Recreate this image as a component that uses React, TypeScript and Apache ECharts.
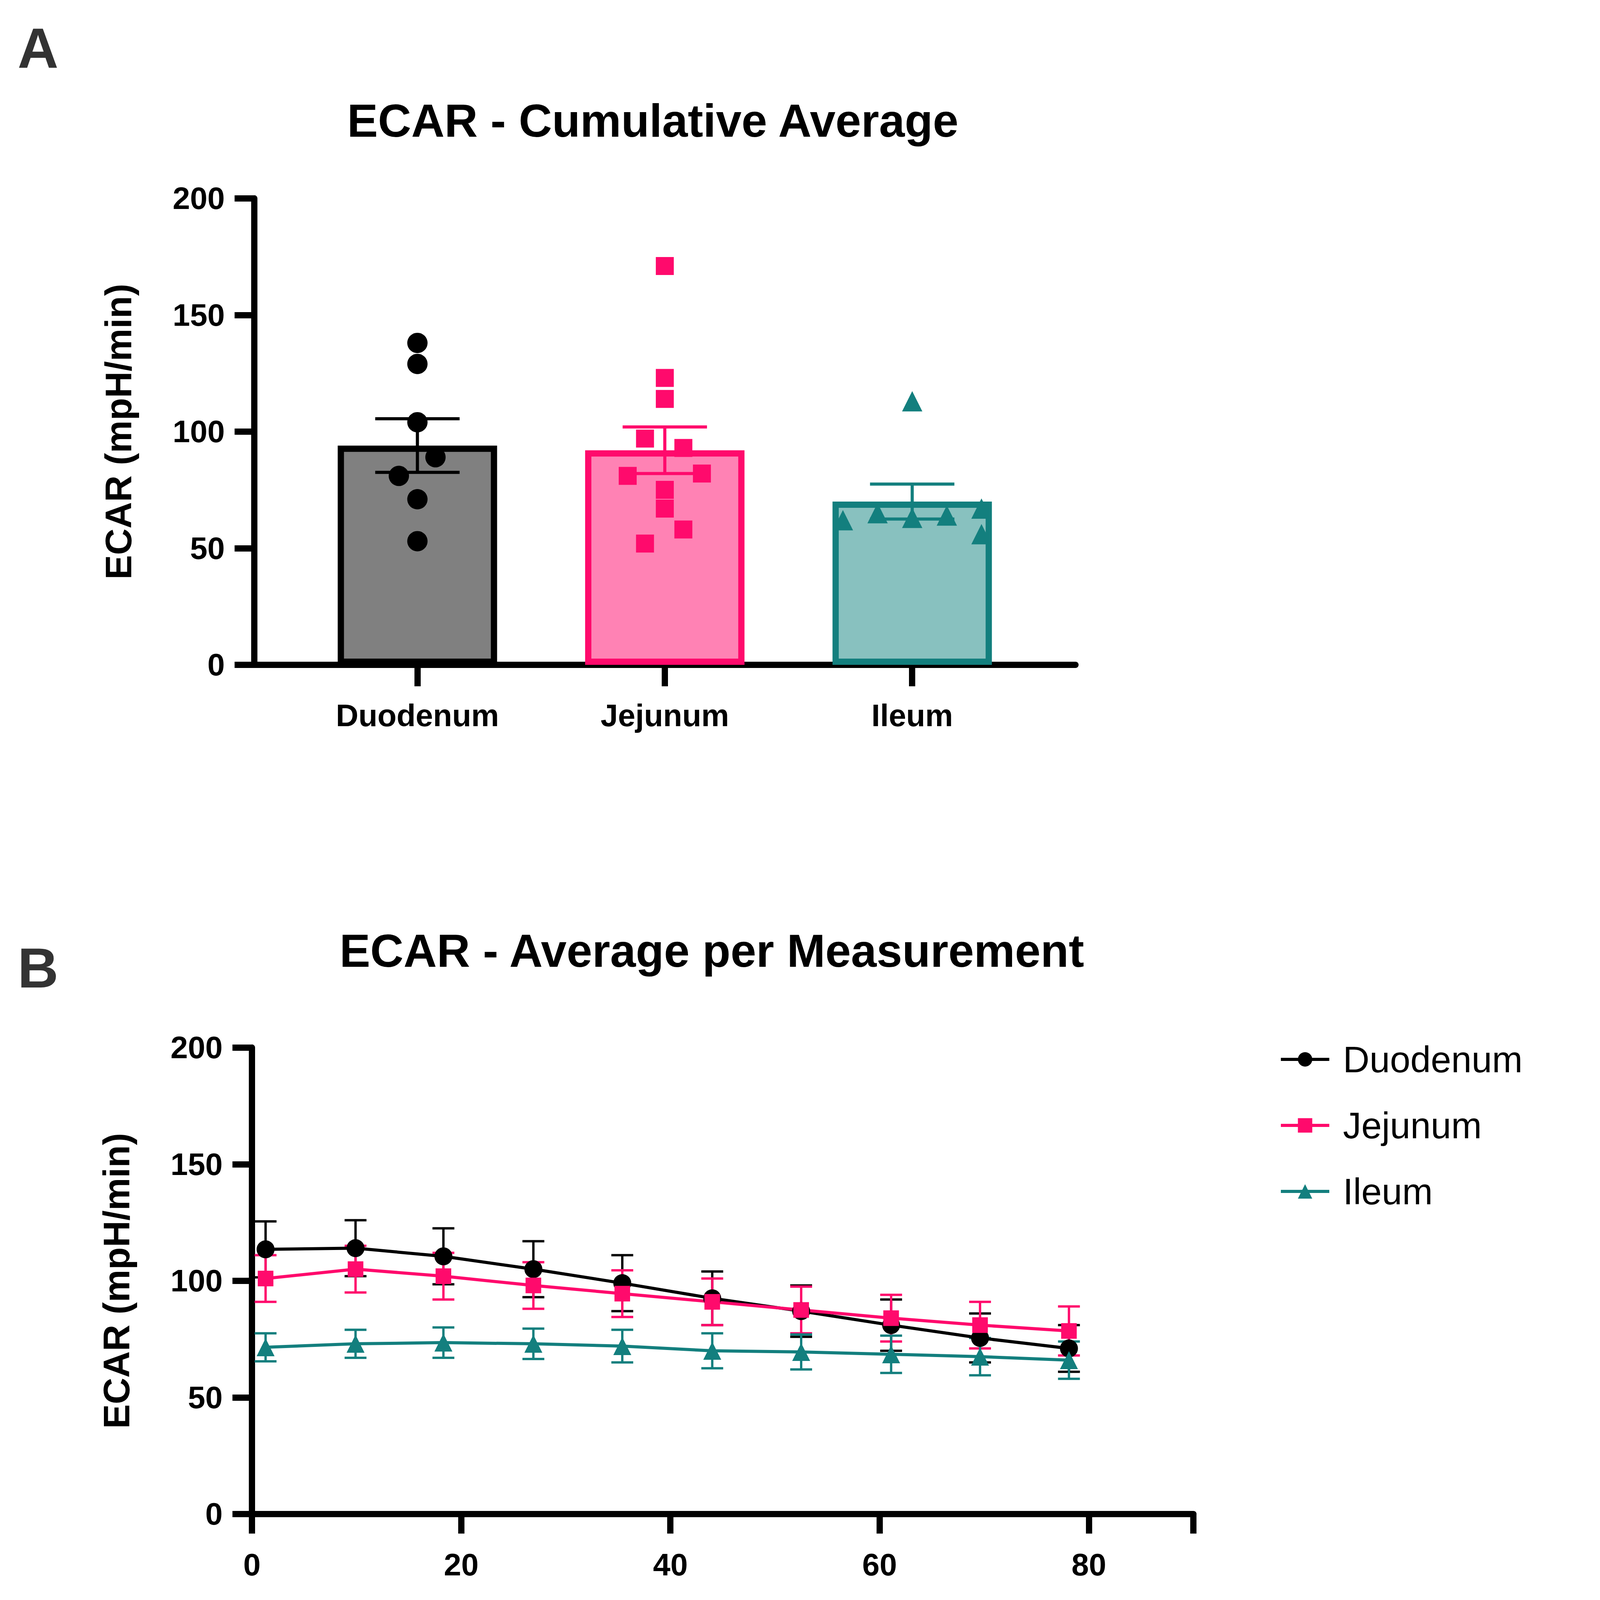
import React, { useEffect, useRef } from 'react';
import * as echarts from 'echarts';

const S = 2.745; // reference display px -> page px
const FONT = 'Liberation Sans';

// Panel A
const regions = ['Duodenum', 'Jejunum', 'Ileum'];
const regionX = [0.66, 1.66, 2.66];
const barMeans = [94, 92, 70];
const barSem = [11.5, 10, 7.5];
const barFill = ['#808080', '#ff82b4', '#88c1bf'];
const lineColors = ['#000000', '#ff0a6c', '#137f7e'];
const symbols = ['circle', 'rect', 'triangle'];
// [offset from bar centre, value]
const duodenumPts = [[0, 138], [0, 129], [0, 104], [0.073, 89], [-0.075, 81], [0, 71], [0, 53]];
const jejunumPts = [[0, 171], [0, 123], [0, 114], [-0.08, 97], [0.075, 93], [0.15, 82], [-0.15, 81], [0, 75], [0, 67], [0.075, 58], [-0.08, 52]];
const ileumPts = [[0, 113], [0.28, 67], [-0.14, 65], [0.14, 64], [0, 63], [-0.28, 62], [0.28, 56]];
const allPts = [duodenumPts, jejunumPts, ileumPts];

// Panel B
const times = [1.3, 9.9, 18.3, 26.9, 35.4, 44, 52.5, 61.1, 69.6, 78.1];
const duodenumMean = [113.5, 114, 110.5, 105, 99, 92.5, 87, 81, 75.5, 71];
const duodenumSem = [12, 12, 12, 12, 12, 11.5, 11, 11, 10.5, 10];
const jejunumMean = [101, 105, 102, 98, 94.5, 91, 87.5, 84, 81, 78.5];
const jejunumSem = [10, 10, 10, 10, 10, 10, 10, 10, 10, 10.5];
const ileumMean = [71.5, 73, 73.5, 73, 72, 70, 69.5, 68.5, 67.5, 66];
const ileumSem = [6, 6, 6.5, 6.5, 7, 7.5, 7.5, 8, 8, 8];
const seriesB = [
  { name: 'Duodenum', mean: duodenumMean, sem: duodenumSem },
  { name: 'Jejunum', mean: jejunumMean, sem: jejunumSem },
  { name: 'Ileum', mean: ileumMean, sem: ileumSem },
];

const errorBar = (capHalf: number, colors: string[], width: number, gi: number) => ({
  type: 'custom',
  xAxisIndex: gi,
  yAxisIndex: gi,
  silent: true,
  z: 5,
  renderItem: (params: any, api: any) => {
    const x = api.value(0);
    const lo = api.coord([x, api.value(1)]);
    const hi = api.coord([x, api.value(2)]);
    const color = colors[params.dataIndex % colors.length];
    const style = { stroke: color, lineWidth: width };
    return {
      type: 'group',
      children: [
        { type: 'line', shape: { x1: lo[0], y1: lo[1], x2: hi[0], y2: hi[1] }, style },
        { type: 'line', shape: { x1: hi[0] - capHalf, y1: hi[1], x2: hi[0] + capHalf, y2: hi[1] }, style },
        { type: 'line', shape: { x1: lo[0] - capHalf, y1: lo[1], x2: lo[0] + capHalf, y2: lo[1] }, style },
      ],
    };
  },
});

const axisLab = { color: '#000', fontFamily: FONT, fontWeight: 'bold' as const, fontSize: 80 };
const axisLine = { lineStyle: { color: '#000', width: 16 } };
const nameStyle = { fontSize: 94, fontFamily: FONT, fontWeight: 'bold' as const, color: '#000' };

const App: React.FC = () => {
  const divEL = useRef(null);

  useEffect(() => {
    document.body.style.margin = '0';
    const instance = echarts.init(divEL.current as any, null, { renderer: 'svg' });

    const option: any = {
      animation: false,
      backgroundColor: '#fff',
      title: [
        { text: 'A', left: 40, top: 45, textStyle: { fontSize: 145, fontFamily: FONT, fontWeight: 'bold', color: '#333' } },
        { text: 'B', left: 40, top: 2400, textStyle: { fontSize: 145, fontFamily: FONT, fontWeight: 'bold', color: '#333' } },
        { text: 'ECAR - Cumulative Average', left: 607 * S, textAlign: 'center', top: 245, textStyle: { fontSize: 118, fontFamily: FONT, fontWeight: 'bold', color: '#000' } },
        { text: 'ECAR - Average per Measurement', left: 662 * S, textAlign: 'center', top: 2370, textStyle: { fontSize: 118, fontFamily: FONT, fontWeight: 'bold', color: '#000' } },
      ],
      legend: {
        data: seriesB.map((s) => s.name),
        orient: 'vertical',
        left: 3270,
        top: 2660,
        itemWidth: 124,
        itemHeight: 46,
        itemGap: 75,
        lineStyle: { width: 8 },
        textStyle: { fontSize: 94, fontFamily: FONT, color: '#000', padding: [0, 0, 0, 30] },
      },
      grid: [
        { left: 237 * S, top: 185 * S, width: 766 * S, height: 435 * S },
        { left: 235 * S, top: 977 * S, width: 878 * S, height: 435 * S },
      ],
      xAxis: [
        {
          type: 'value', gridIndex: 0, min: 0, max: 3.32, splitLine: { show: false },
          axisLine,
          axisTick: { length: 55, lineStyle: { width: 16, color: '#000' }, customValues: regionX },
          axisLabel: { ...axisLab, margin: 90, customValues: regionX, formatter: (v: number) => regions[regionX.findIndex((r) => Math.abs(r - v) < 0.01)] ?? '' },
        },
        {
          type: 'value', gridIndex: 1, min: 0, max: 90, interval: 20, splitLine: { show: false },
          axisLine,
          axisTick: { length: 50, lineStyle: { width: 16, color: '#000' } },
          axisLabel: { ...axisLab, margin: 90, formatter: (v: number) => (v > 80 ? '' : String(v)) },
          name: 'Time (minutes)', nameLocation: 'middle', nameGap: 235,
          nameTextStyle: nameStyle,
        },
      ],
      yAxis: [0, 1].map((g) => ({
        type: 'value', gridIndex: g, min: 0, max: 200, interval: 50, splitLine: { show: false },
        axisLine,
        axisTick: { length: 50, lineStyle: { width: 16, color: '#000' } },
        axisLabel: { ...axisLab, margin: 75 },
        name: 'ECAR (mpH/min)', nameLocation: 'middle', nameGap: 300,
        nameTextStyle: nameStyle,
      })),
      series: [
        {
          type: 'bar', xAxisIndex: 0, yAxisIndex: 0, barWidth: 408, z: 2,
          data: regionX.map((x, i) => ({
            value: [x, barMeans[i]],
            itemStyle: { color: barFill[i], borderColor: lineColors[i], borderWidth: 16 },
          })),
        },
        {
          ...errorBar(108, lineColors, 8, 0),
          data: regionX.map((x, i) => [x, barMeans[i] - barSem[i], barMeans[i] + barSem[i]]),
        },
        ...allPts.map((pts, i) => ({
          type: 'scatter', xAxisIndex: 0, yAxisIndex: 0, z: 6,
          symbol: symbols[i], symbolSize: i === 1 ? 46 : 52,
          itemStyle: { color: lineColors[i], opacity: 1 },
          data: pts.map(([o, v]) => [regionX[i] + o, v]),
        })),
        ...seriesB.map((s, i) => ({
          ...errorBar(28, [lineColors[i]], 6, 1),
          data: times.map((t, k) => [t, s.mean[k] - s.sem[k], s.mean[k] + s.sem[k]]),
        })),
        ...seriesB.map((s, i) => ({
          name: s.name, type: 'line', xAxisIndex: 1, yAxisIndex: 1, z: 7,
          symbol: symbols[i], symbolSize: i === 1 ? 40 : 46,
          lineStyle: { color: lineColors[i], width: 8 },
          itemStyle: { color: lineColors[i], opacity: 1 },
          data: times.map((t, k) => [t, s.mean[k]]),
        })),
      ],
    };
    instance.setOption(option);
    return () => {
      instance.dispose();
    };
  }, []);

  return <div ref={divEL} style={{ width: 4117, height: 4317 }}></div>;
};

export default App;
